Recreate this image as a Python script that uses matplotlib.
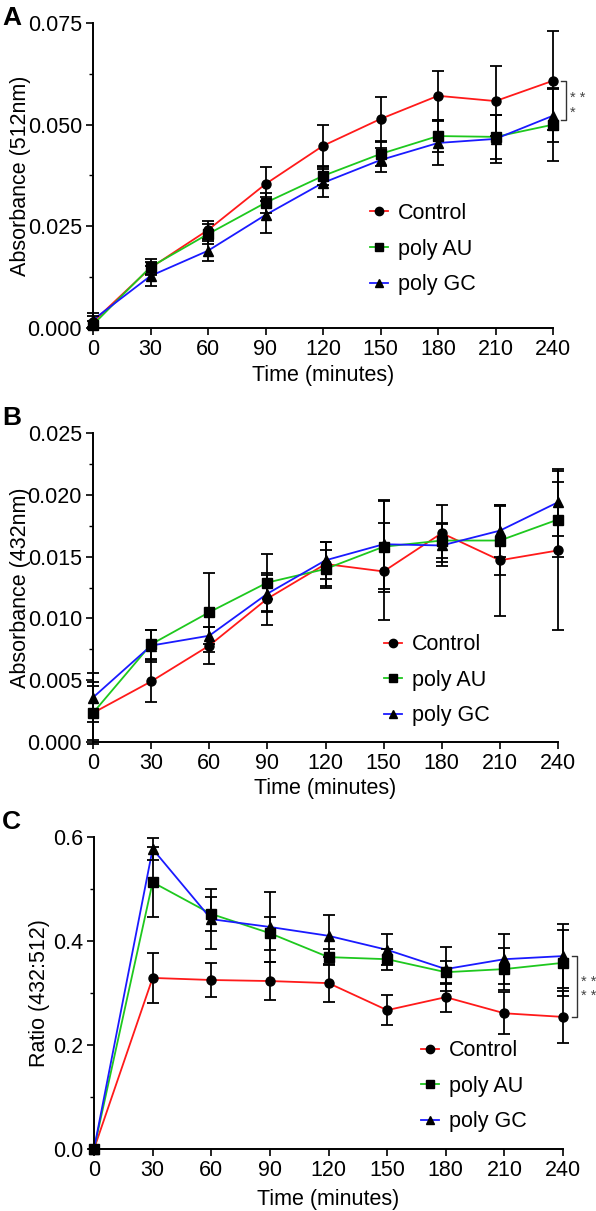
import matplotlib
matplotlib.use('Agg')
import matplotlib.pyplot as plt
import matplotlib.transforms as mtransforms
from matplotlib.lines import Line2D
from matplotlib.ticker import MultipleLocator, FormatStrFormatter

plt.rcParams['font.family'] = ['Liberation Sans', 'DejaVu Sans']

time = [0, 30, 60, 90, 120, 150, 180, 210, 240]
labels = ['Control', 'poly AU', 'poly GC']
colors = ['#ff1a1a', '#1ec81e', '#1a1aff']
markers = ['o', 's', '^']

# A: absorbance at 512nm
a_control = [0.0015, 0.0148, 0.0241, 0.0354, 0.0448, 0.0514, 0.0571, 0.0558, 0.0608]
a_control_err = [0.0015, 0.0015, 0.0022, 0.0042, 0.0050, 0.0054, 0.0060, 0.0087, 0.0122]
a_au = [0.0008, 0.0150, 0.0231, 0.0308, 0.0374, 0.0428, 0.0472, 0.0470, 0.0500]
a_au_err = [0.0010, 0.0020, 0.0025, 0.0025, 0.0022, 0.0030, 0.0040, 0.0055, 0.0090]
a_gc = [0.0020, 0.0128, 0.0190, 0.0278, 0.0357, 0.0413, 0.0455, 0.0465, 0.0522]
a_gc_err = [0.0018, 0.0025, 0.0025, 0.0045, 0.0035, 0.0029, 0.0055, 0.0060, 0.0065]

# B: absorbance at 432nm
b_control = [0.00235, 0.0049, 0.0078, 0.0116, 0.0144, 0.0138, 0.0169, 0.0147, 0.0155]
b_control_err = [0.0022, 0.0017, 0.0015, 0.0021, 0.0018, 0.0039, 0.0023, 0.0045, 0.0064]
b_au = [0.00235, 0.0079, 0.0105, 0.0129, 0.0140, 0.0158, 0.0163, 0.0163, 0.0180]
b_au_err = [0.0025, 0.0012, 0.0032, 0.0023, 0.0015, 0.0037, 0.0014, 0.0028, 0.0030]
b_gc = [0.0036, 0.0078, 0.0086, 0.0120, 0.0147, 0.0160, 0.0159, 0.0171, 0.0194]
b_gc_err = [0.0020, 0.0013, 0.0007, 0.0015, 0.0015, 0.0036, 0.0017, 0.0021, 0.0027]

# C: ratio 432:512
c_control = [0.0, 0.329, 0.325, 0.323, 0.319, 0.267, 0.292, 0.261, 0.254]
c_control_err = [0.0, 0.048, 0.033, 0.037, 0.036, 0.029, 0.028, 0.040, 0.050]
c_au = [0.0, 0.513, 0.452, 0.415, 0.369, 0.365, 0.340, 0.346, 0.358]
c_au_err = [0.0, 0.067, 0.033, 0.032, 0.015, 0.020, 0.022, 0.040, 0.063]
c_gc = [0.0, 0.577, 0.442, 0.427, 0.410, 0.383, 0.346, 0.365, 0.371]
c_gc_err = [0.0, 0.022, 0.058, 0.067, 0.040, 0.030, 0.043, 0.048, 0.062]

W, H = 596, 1211
fig = plt.figure(figsize=(W / 100, H / 100), dpi=100)


def px_axes(left, right, top, bottom):
    return fig.add_axes([left / W, 1 - bottom / H, (right - left) / W, (bottom - top) / H])


def draw_panel(ax, series, errs, ylim, major, fmt, ylabel, ylabel_x, xlabel_y, leg_xy):
    for y, e, c, m in zip(series, errs, colors, markers):
        ax.plot(time, y, color=c, lw=1.3, zorder=2, clip_on=False)
        ax.errorbar(time, y, yerr=e, fmt='none', ecolor='black', elinewidth=1.3,
                    capsize=4, capthick=1.3, zorder=3, clip_on=False)
        ax.plot(time, y, ls='none', marker=m, ms=6.5, mfc='black', mec='black',
                zorder=4, clip_on=False)
    ax.set_xlim(0, 240)
    ax.set_ylim(*ylim)
    ax.xaxis.set_major_locator(MultipleLocator(30))
    ax.yaxis.set_major_locator(MultipleLocator(major))
    ax.yaxis.set_minor_locator(MultipleLocator(major / 2))
    ax.yaxis.set_major_formatter(FormatStrFormatter(fmt))
    for s in ['top', 'right']:
        ax.spines[s].set_visible(False)
    for s in ['left', 'bottom']:
        ax.spines[s].set_linewidth(1.4)
    ax.tick_params(which='major', length=5, width=1.2, labelsize=15.5, pad=3)
    ax.tick_params(which='minor', length=3, width=1.0)
    ax.set_ylabel(ylabel, fontsize=15.5)
    ax.set_xlabel('Time (minutes)', fontsize=15.5)
    ax.yaxis.set_label_coords(ylabel_x, 0.5)
    ax.xaxis.set_label_coords(0.5, xlabel_y)
    handles = [Line2D([], [], color=c, lw=1.3, marker=m, ms=6, mfc='black', mec='black')
               for c, m in zip(colors, markers)]
    ax.legend(handles, labels, loc='upper left', bbox_to_anchor=leg_xy, frameon=False,
              fontsize=15.5, handlelength=0.85, handletextpad=0.45, borderpad=0,
              borderaxespad=0, labelspacing=0.68)


def bracket(ax, x, y_top, y_bot, stars, offs):
    tr = mtransforms.blended_transform_factory(ax.transAxes, ax.transData)
    ax.plot([x - 0.011, x, x, x - 0.011], [y_top, y_top, y_bot, y_bot], color='#333333',
            lw=1.0, transform=tr, clip_on=False)
    mid = (y_top + y_bot) / 2
    span = y_top - y_bot
    for s, o in zip(stars, offs):
        ax.text(x + 0.008, mid + span * o, s, transform=tr, fontsize=10.5,
                color='#444444', ha='left', va='center')


ax_a = px_axes(93, 553, 23, 328)
draw_panel(ax_a, [a_control, a_au, a_gc], [a_control_err, a_au_err, a_gc_err],
           (0, 0.075), 0.025, '%.3f', 'Absorbance (512nm)', -0.134, -0.122, (0.602, 0.41))
bracket(ax_a, 1.028, a_control[-1], (a_au[-1] + a_gc[-1]) / 2, ['* *', '*'], [0.05, -0.32])

ax_b = px_axes(93, 558, 433, 742)
draw_panel(ax_b, [b_control, b_au, b_gc], [b_control_err, b_au_err, b_gc_err],
           (0, 0.025), 0.005, '%.3f', 'Absorbance (432nm)', -0.134, -0.118, (0.626, 0.349))

ax_c = px_axes(94, 563, 837, 1149)
draw_panel(ax_c, [c_control, c_au, c_gc], [c_control_err, c_au_err, c_gc_err],
           (0, 0.6), 0.2, '%.1f', 'Ratio (432:512)', -0.093, -0.128, (0.697, 0.349))
bracket(ax_c, 1.03, c_gc[-1], c_control[-1], ['* *', '* *'], [0.08, -0.16])

fig.text(2 / W, 1 - 6 / H, 'A', fontsize=19, fontweight='bold', va='top', ha='left')
fig.text(2 / W, 1 - 406 / H, 'B', fontsize=19, fontweight='bold', va='top', ha='left')
fig.text(2 / W, 1 - 810 / H, 'C', fontsize=19, fontweight='bold', va='top', ha='left')

fig.savefig('out.png', dpi=100)
